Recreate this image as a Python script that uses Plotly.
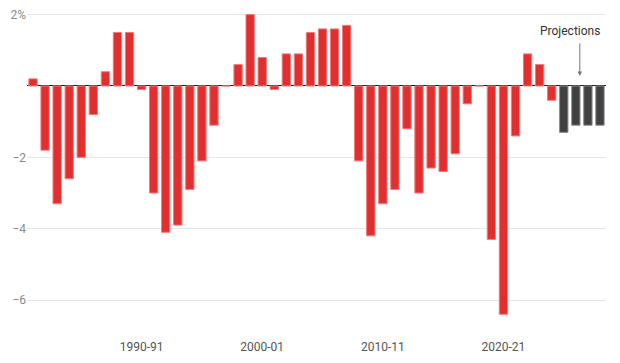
import plotly.graph_objects as go

years = ["1981-82","1982-83","1983-84","1984-85","1985-86","1986-87","1987-88","1988-89",
         "1989-90","1990-91","1991-92","1992-93","1993-94","1994-95","1995-96","1996-97",
         "1997-98","1998-99","1999-00","2000-01","2001-02","2002-03","2003-04","2004-05",
         "2005-06","2006-07","2007-08","2008-09","2009-10","2010-11","2011-12","2012-13",
         "2013-14","2014-15","2015-16","2016-17","2017-18","2018-19","2019-20","2020-21",
         "2021-22","2022-23","2023-24","2024-25","2025-26","2026-27","2027-28","2028-29"]
values = [0.2, -1.8, -3.3, -2.6, -2.0, -0.8, 0.4, 1.5,
          1.5, -0.1, -3.0, -4.1, -3.9, -2.9, -2.1, -1.1,
          0.0, 0.6, 2.0, 0.8, -0.1, 0.9, 0.9, 1.5,
          1.6, 1.6, 1.7, -2.1, -4.2, -3.3, -2.9, -1.2,
          -3.0, -2.3, -2.4, -1.9, -0.5, 0.0, -4.3, -6.4,
          -1.4, 0.9, 0.6, -0.4, -1.3, -1.1, -1.1, -1.1]
is_projection = [False] * 44 + [True] * 4
x_tick_labels = ["1990-91", "2000-01", "2010-11", "2020-21"]
y_tick_vals = [-6, -4, -2, 2]
y_tick_text = ["\u22126", "\u22124", "\u22122", "2%"]

RED = "#e02f2e"
GREY = "#404040"
colors = [GREY if p else RED for p in is_projection]
line_colors = ["#8a8a8a" if p else "#f07a7a" for p in is_projection]

fig = go.Figure(go.Bar(
    x=years, y=values,
    marker=dict(color=colors, line=dict(color=line_colors, width=1)),
    hoverinfo="x+y",
))

proj_start = is_projection.index(True)

fig.add_annotation(
    x=proj_start + 1.33, y=0.28, ax=0, ay=-34, text="",
    showarrow=True, arrowhead=2, arrowsize=0.9, arrowwidth=1, arrowcolor="#777",
    xref="x", yref="y",
)
fig.add_annotation(
    x=proj_start + 0.5, y=1.55, text="Projections", showarrow=False,
    font=dict(size=12, color="#333"), xref="x", yref="y",
)

# page body has an 8px default margin, so the figure is sized and offset to compensate
fig.update_layout(
    width=612, height=355,
    margin=dict(l=19, r=14, t=2, b=33),
    paper_bgcolor="white", plot_bgcolor="white",
    font=dict(family="Roboto, Arial, sans-serif", size=12, color="#666"),
    showlegend=False,
    bargap=0.31,
    xaxis=dict(
        type="category", tickmode="array", tickvals=x_tick_labels,
        showgrid=False, showline=False, zeroline=False, automargin=False,
        ticks="outside", ticklen=6, tickcolor="rgba(0,0,0,0)",
        tickfont=dict(size=12, color="#555"),
        range=[-0.5, len(years) - 0.5],
    ),
    yaxis=dict(
        range=[-6.84, 2.13], tickmode="array", tickvals=y_tick_vals, ticktext=y_tick_text,
        showgrid=True, gridcolor="#e6e6e6", gridwidth=1, automargin=False,
        ticklabeloverflow="allow",
        zeroline=True, zerolinecolor="#222", zerolinewidth=1,
        showline=False, ticks="", tickfont=dict(size=12, color="#8a8a8a"),
    ),
)

fig.write_html("out.html")
